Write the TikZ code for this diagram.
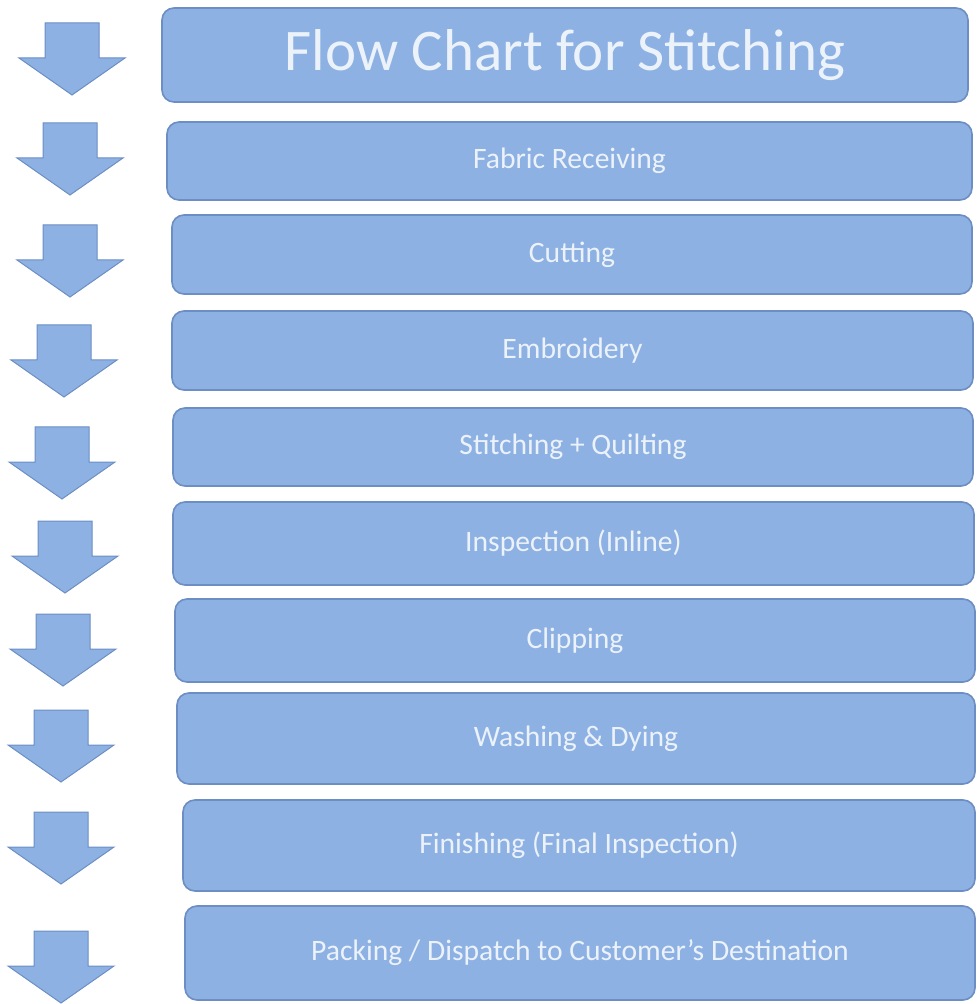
\documentclass[tikz,border=0pt]{standalone}
\usepackage{fontspec}
\setmainfont{Carlito}
\usetikzlibrary{positioning}

\definecolor{stageblue}{RGB}{141,177,227}
\definecolor{stageedge}{RGB}{108,142,196}
\definecolor{stagetext}{RGB}{236,242,250}

\begin{document}
\begin{tikzpicture}[
  x=0.5pt, y=-0.5pt,
  stage/.style={draw=stageedge, fill=stageblue, rounded corners=6pt, line width=0.8pt, inner sep=0pt, align=center, text=stagetext, font=\fontsize{14.8}{18}\selectfont},
  headline/.style={stage, font=\fontsize{29.5}{35}\selectfont},
  blockarr/.style={draw=stageedge, fill=stageblue, line width=0.5pt, line join=miter}
]
  \useasboundingbox (0,0) rectangle (979,1004);

  \node[headline, minimum width=403pt, minimum height=47pt] (title) at (565,55) {Flow Chart for Stitching};
  \node[stage, minimum width=402.5pt, minimum height=39pt] (recv) at (569.5,161) {Fabric Receiving};
  \node[stage, minimum width=400pt, minimum height=39.5pt] (cut) at (572,254.5) {Cutting};
  \node[stage, minimum width=400.5pt, minimum height=39.5pt] (embr) at (572.5,350.5) {Embroidery};
  \node[stage, minimum width=400pt, minimum height=39pt] (stitch) at (573,447) {Stitching + Quilting};
  \node[stage, minimum width=400.5pt, minimum height=41.5pt] (insp) at (573.5,543.5) {Inspection (Inline)};
  \node[stage, minimum width=400pt, minimum height=41.5pt] (clip) at (575,640.5) {Clipping};
  \node[stage, minimum width=399pt, minimum height=45.5pt] (wash) at (576,738.5) {Washing \& Dying};
  \node[stage, minimum width=396pt, minimum height=45.5pt] (finish) at (579,845.5) {Finishing (Final Inspection)};
  \node[stage, minimum width=395pt, minimum height=47pt] (pack) at (580,953) {Packing / Dispatch to Customer’s Destination};

  % block arrows down the left side
  \foreach \cx/\ty in {72/23, 70/123, 70/225, 64/325, 62/427, 65/521, 63/614, 61/710, 61/812, 61/931}
    \draw[blockarr] (\cx-27,\ty) -- ++(54,0) -- ++(0,35) -- ++(26,0) -- (\cx,\ty+72) -- (\cx-53,\ty+35) -- ++(26,0) -- cycle;
\end{tikzpicture}
\end{document}
